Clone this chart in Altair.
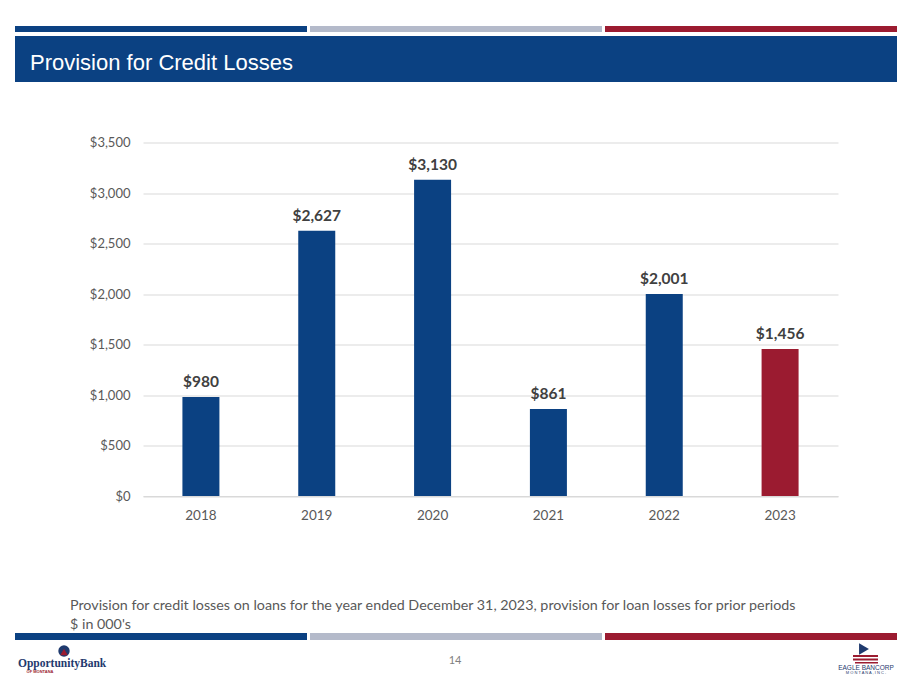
import altair as alt
import pandas as pd

years = ["2018", "2019", "2020", "2021", "2022", "2023"]
values = [980, 2627, 3130, 861, 2001, 1456]
labels = ["$980", "$2,627", "$3,130", "$861", "$2,001", "$1,456"]
highlight = "2023"

title_text = "Provision for Credit Losses"
note1 = "Provision for credit losses on loans for the year ended December 31, 2023, provision for loan losses for prior periods"
note2 = "$ in 000's"
page_no = "14"

BLUE = "#0B4182"
RED = "#9B1B30"
GRAY = "#B4BACA"
TXT = "#595959"
NAVY = "#1F3A6E"

df = pd.DataFrame({"year": years, "value": values, "label": labels})

# page -> plot coordinate helpers (plot origin at page x=143, y=142.5)
OX, OY = 143, 142.5
def X(p):
    return p - OX
def Y(p):
    return p - OY

one = pd.DataFrame({"a": [0]})

def rect(x1, x2, y1, y2, color):
    return alt.Chart(one).mark_rect(color=color).encode(
        x=alt.value(X(x1)), x2=alt.value(X(x2)),
        y=alt.value(Y(y1)), y2=alt.value(Y(y2)))

def txt(s, x, y, size, color, font="Lato", weight="normal", align="left"):
    return alt.Chart(one).mark_text(
        text=s, align=align, baseline="alphabetic", fontSize=size,
        font=font, fontWeight=weight, color=color).encode(
        x=alt.value(X(x)), y=alt.value(Y(y)))

def pt(shape, x, y, size, color):
    return alt.Chart(one).mark_point(shape=shape, filled=True, size=size,
                                      color=color, opacity=1).encode(
        x=alt.value(X(x)), y=alt.value(Y(y)))

xenc = alt.X("year:N", sort=years, title=None,
             scale=alt.Scale(paddingInner=0, paddingOuter=0),
             axis=alt.Axis(labelAngle=0, labelFontSize=13.5, labelColor=TXT,
                           labelFont="Lato", labelPadding=12, ticks=False,
                           domain=True, domainColor="#D9D9D9", grid=False))
yenc = alt.Y("value:Q", title=None,
             scale=alt.Scale(domain=[0, 3500], nice=False),
             axis=alt.Axis(values=[0, 500, 1000, 1500, 2000, 2500, 3000, 3500],
                           format="$,.0f", labelFontSize=13, labelColor=TXT,
                           labelFont="Lato", labelPadding=13, ticks=False,
                           domain=False, gridColor="#D9D9D9", gridWidth=1))

bars = alt.Chart(df).mark_bar(size=37).encode(
    x=xenc, y=yenc,
    color=alt.condition(alt.datum.year == highlight, alt.value(RED), alt.value(BLUE)))

vals = alt.Chart(df).mark_text(
    baseline="alphabetic", dy=-10, fontSize=15.5, font="Lato",
    fontWeight="bold", color="#404040").encode(
    x=alt.X("year:N", sort=years), y="value:Q", text="label:N")

deco = [
    rect(15, 307, 26, 32, BLUE), rect(310, 602, 26, 32, GRAY), rect(605, 897, 26, 32, RED),
    rect(15, 897, 36, 82, BLUE),
    txt(title_text, 30, 70, 22, "white", font="Liberation Sans"),
    txt(note1, 70, 610, 14.3, TXT),
    txt(note2, 70, 629, 14.3, TXT),
    rect(15, 307, 633, 640, BLUE), rect(310, 602, 633, 640, GRAY), rect(605, 897, 633, 640, RED),
    txt(page_no, 455, 664, 11, "#7F7F7F", align="center"),
    # left logo
    pt("circle", 64, 651, 130, NAVY),
    pt("triangle-up", 64, 652, 55, RED),
    txt("OpportunityBank", 18, 667, 11.5, NAVY, font="Liberation Serif", weight="bold"),
    txt("OF MONTANA", 40, 672.5, 4, RED, font="Liberation Sans", weight="bold", align="center"),
    # right logo
    rect(853, 878, 655, 657, RED), rect(853, 878, 658.5, 660.5, RED), rect(855, 878, 662, 663.5, RED),
    pt("triangle-right", 864, 649, 130, NAVY),
    txt("EAGLE BANCORP", 866, 669.5, 6.5, NAVY, font="Liberation Sans"),
    txt("M O N T A N A ,  I N C .", 866, 674, 4, NAVY, font="Liberation Sans", align="center"),
]
# center the eagle text
deco[-2] = txt("EAGLE BANCORP", 866, 669.5, 6.5, NAVY, font="Liberation Sans", align="center")

chart = alt.layer(bars, vals, *deco).properties(
    width=695, height=353.5,
    autosize=alt.AutoSizeParams(type="none"),
    padding={"left": 135, "top": 134.5, "right": 65, "bottom": 178.5},
).configure_view(stroke=None)

chart.save("out.html", embed_options={"renderer": "svg", "actions": False})
